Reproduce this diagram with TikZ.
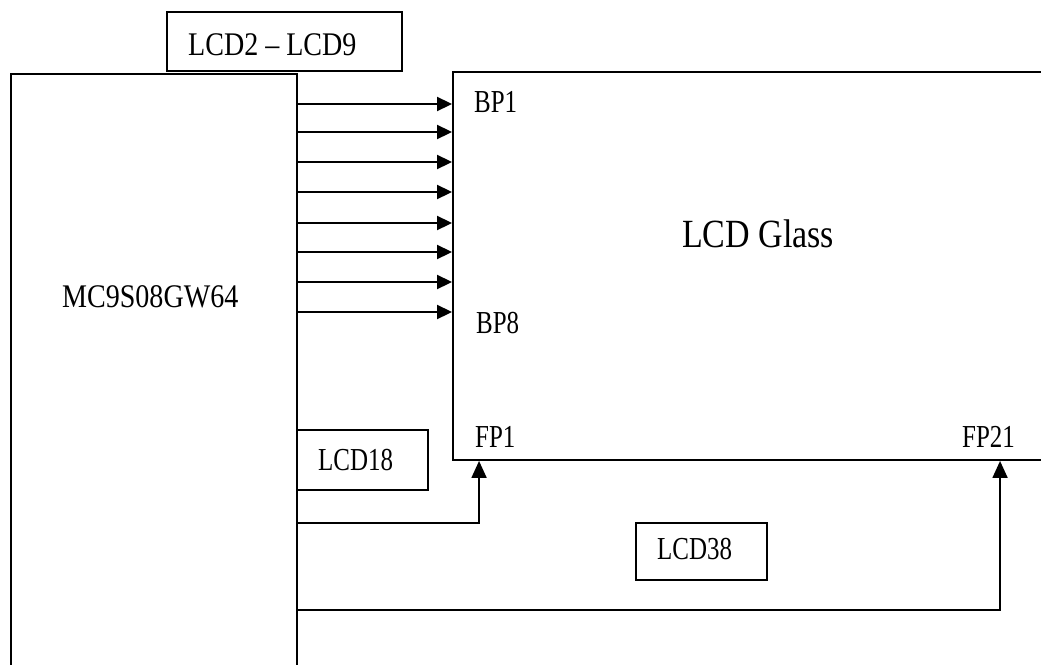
\documentclass[tikz,border=0pt]{standalone}
\usepackage{fontspec}
\setmainfont{Liberation Serif}
\newfontfamily\biglbl[FakeStretch=0.85]{Liberation Serif}
\newfontfamily\smalllbl[FakeStretch=0.78]{Liberation Serif}
\usetikzlibrary{arrows.meta,calc}
\tikzset{
  blk/.style={draw=black, line width=1.9pt, rectangle, inner sep=0pt},
  lbl/.style={inner sep=0pt, anchor=base west, font=\biglbl\fontsize{33}{36}\selectfont},
  slbl/.style={inner sep=0pt, anchor=base west, font=\smalllbl\fontsize{32}{36}\selectfont},
  glbl/.style={inner sep=0pt, anchor=base west, font=\biglbl\fontsize{40}{44}\selectfont},
  arr/.style={line width=1.9pt, -{Triangle[length=15pt,width=14pt]}},
  varr/.style={line width=1.9pt, -{Triangle[length=17pt,width=15pt]}}
}
\begin{document}
\begin{tikzpicture}[x=1pt,y=-1pt]
\useasboundingbox (0,0) rectangle (1041,664);
\clip (0,0) rectangle (1041,664);
% blocks
\node[blk, minimum width=235pt, minimum height=59pt] (lcd29) at (284.5,41.5) {};
\node[blk, minimum width=286pt, minimum height=626pt] (mcu) at (154,387) {};
\node[blk, minimum width=647pt, minimum height=388pt] (glass) at (776.5,266) {};
\node[blk, minimum width=131pt, minimum height=60pt] (lcd18) at (362.5,460) {};
\node[blk, minimum width=131pt, minimum height=57pt] (lcd38) at (701.5,551.5) {};
% labels
\node[lbl] (t29) at (188,55) {LCD2 – LCD9};
\node[lbl] (tmcu) at (62,307) {MC9S08GW64};
\node[glbl] (tglass) at (682,247) {LCD Glass};
\node[slbl] (tbp1) at (474,112) {BP1};
\node[slbl] (tbp8) at (476,333) {BP8};
\node[slbl] (tfp1) at (475,447) {FP1};
\node[slbl] (tfp21) at (962,447) {FP21};
\node[slbl] (t18) at (318,470) {LCD18};
\node[slbl] (t38) at (657,559) {LCD38};
% backplane arrows
\foreach \y in {104,132,162,192,223,252,282,312}{
  \draw[arr] (mcu.north east |- 0,\y) -- (glass.west |- 0,\y);
}
% frontplane connectors
\coordinate (fp1in) at ($(glass.south west)+(27,0)$);
\coordinate (fp21in) at ($(glass.south west)+(548,0)$);
\draw[varr] (mcu.north east |- 0,523) -| (fp1in);
\draw[varr] (mcu.north east |- 0,610) -| (fp21in);
\end{tikzpicture}
\end{document}
